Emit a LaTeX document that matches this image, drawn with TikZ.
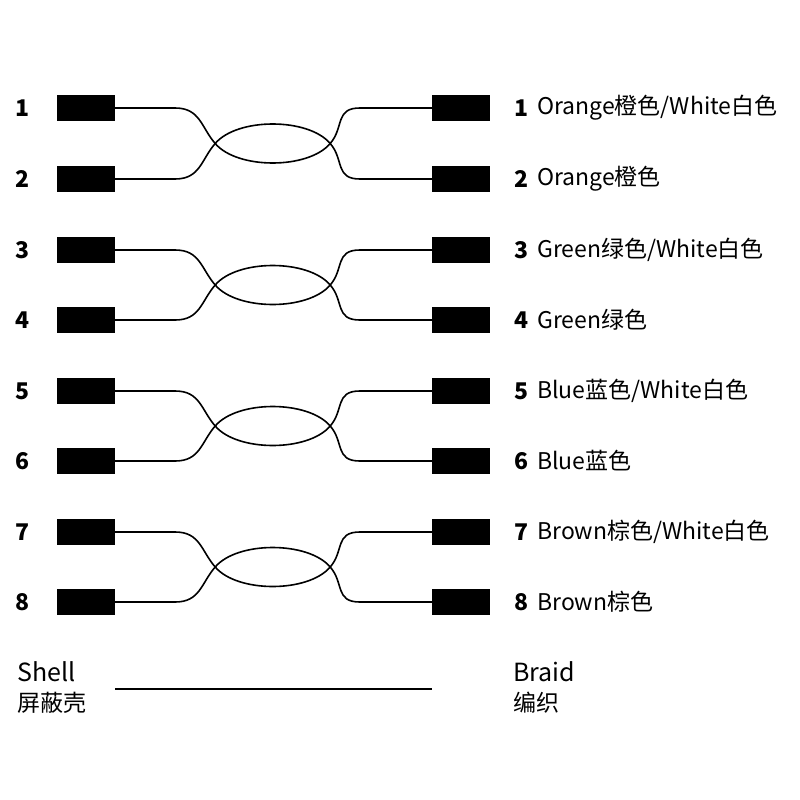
\documentclass[tikz,border=0pt]{standalone}
\usetikzlibrary{calc}
\usepackage{fontspec}
\setmainfont{Noto Sans CJK SC}
\newcommand{\wsl}{/White白色}
\begin{document}
\begin{tikzpicture}[x=1pt,y=-1pt,
  pin/.style={fill=black,minimum width=58pt,minimum height=26pt,inner sep=0pt,draw=none},
  num/.style={font=\fontsize{23}{23}\selectfont\bfseries,inner sep=0pt},
  lab/.style={font=\fontsize{23}{23}\selectfont,inner sep=0pt,anchor=west},
  wire/.style={line width=1.6pt}]
\useasboundingbox (0,0) rectangle (800,800);
\foreach \i/\y/\t in {1/108/Orange橙色\wsl,2/179/Orange橙色,3/250/Green绿色\wsl,4/320/Green绿色,5/391/Blue蓝色\wsl,6/461/Blue蓝色,7/532/Brown棕色\wsl,8/602/Brown棕色}{
  \node[pin] (L\i) at (86,\y) {};
  \node[pin] (R\i) at (461,\y) {};
  \node[num] (n\i) at (23,\y) {\i};
  \node[num] (m\i) at (521,\y) {\i};
  \node[lab] (t\i) at (537,\y) {\t};
}
\foreach \a/\b in {1/2,3/4,5/6,7/8}{
  \path (L\a.east) coordinate (pa) (L\b.east) coordinate (pb);
  \draw[wire] (L\a.east) -- ++(60,0) .. controls +(25,0) and +(-14,-16) .. ($(pa)!0.5!(pb)+(100,0)$)
     .. controls +(22,26) and +(-22,26) .. ($(pa)!0.5!(pb)+(215,0)$)
     .. controls +(14,-16) and +(-25,0) .. ($(R\a.west)+(-72,0)$) -- (R\a.west);
  \draw[wire] (L\b.east) -- ++(60,0) .. controls +(25,0) and +(-14,16) .. ($(pa)!0.5!(pb)+(100,0)$)
     .. controls +(22,-26) and +(-22,-26) .. ($(pa)!0.5!(pb)+(215,0)$)
     .. controls +(14,16) and +(-25,0) .. ($(R\b.west)+(-72,0)$) -- (R\b.west);
}
\node[lab] (sh) at (17,672) {\fontsize{25}{25}\selectfont Shell};
\node[lab] (shc) at (17,703) {屏蔽壳};
\node[lab] (br) at (513,672) {\fontsize{25}{25}\selectfont Braid};
\node[lab] (brc) at (513,703) {编织};
\coordinate (s1) at (115,689);
\coordinate (s2) at (432,689);
\draw[line width=2pt] (s1) -- (s2);
\end{tikzpicture}
\end{document}
